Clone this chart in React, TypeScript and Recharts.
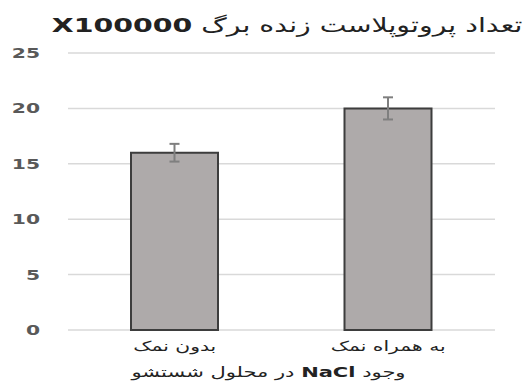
import { BarChart, Bar, XAxis, YAxis, CartesianGrid, ErrorBar } from "recharts";

const categories = ["بدون نمک", "به همراه نمک"];
const protoplastCounts = [16, 20];
const errors = [0.8, 1.0];
const yTicks = [0, 5, 10, 15, 20, 25];

const data = categories.map((name, i) => ({
  name,
  value: protoplastCounts[i],
  err: errors[i],
}));

const persianFont = "'DejaVu Sans', sans-serif";
const stretch = 1.45; // reference text is horizontally wide

const YTick = (props: any) => {
  const { x, y, payload } = props;
  return (
    <text
      transform={`translate(${x},${y}) scale(${stretch},1)`}
      textAnchor="end"
      dy="0.35em"
      fill="#595959"
      fontSize={14}
      fontWeight="bold"
      fontFamily="'DejaVu Sans', sans-serif"
    >
      {payload.value}
    </text>
  );
};

const XTick = (props: any) => {
  const { x, y, payload } = props;
  return (
    <text
      transform={`translate(${x},${y}) scale(${stretch},1)`}
      textAnchor="middle"
      dy="0.9em"
      fill="#222"
      fontSize={14}
      fontFamily={persianFont}
    >
      {payload.value}
    </text>
  );
};

export default function App() {
  return (
    <div style={{ position: "absolute", left: 0, top: 0, width: 525, height: 385, background: "#fff", overflow: "hidden" }}>
      <BarChart
        width={525}
        height={385}
        data={data}
        margin={{ top: 53, right: 30, bottom: 25, left: 0 }}
      >
        <CartesianGrid vertical={false} stroke="#d9d9d9" strokeWidth={1.5} />
        <YAxis
          width={68}
          domain={[0, 25]}
          ticks={yTicks}
          axisLine={false}
          tickLine={false}
          tickSize={0}
          tickMargin={28}
          tick={<YTick />}
        />
        <XAxis
          dataKey="name"
          height={30}
          axisLine={false}
          tickLine={false}
          tickSize={0}
          tickMargin={8}
          tick={<XTick />}
        />
        <Bar dataKey="value" fill="#aeaaaa" stroke="#3d3d3d" strokeWidth={2} barSize={87} isAnimationActive={false}>
          <ErrorBar dataKey="err" width={5} strokeWidth={2} stroke="#7f7f7f" direction="y" />
        </Bar>
      </BarChart>
      <div
        dir="rtl"
        style={{
          position: "absolute",
          right: 3,
          top: 13,
          fontSize: 20,
          fontFamily: persianFont,
          color: "#222",
          whiteSpace: "nowrap",
          transform: "scaleX(1.42)",
          transformOrigin: "right center",
        }}
      >
        تعداد پروتوپلاست زنده برگ <b>X100000</b>
      </div>
      <div
        dir="rtl"
        style={{
          position: "absolute",
          left: 0,
          width: 537,
          top: 364,
          textAlign: "center",
          fontSize: 14,
          fontFamily: persianFont,
          color: "#222",
          whiteSpace: "nowrap",
          transform: "scaleX(1.5)",
          transformOrigin: "center center",
        }}
      >
        وجود <b>NaCl</b> در محلول شستشو
      </div>
    </div>
  );
}
